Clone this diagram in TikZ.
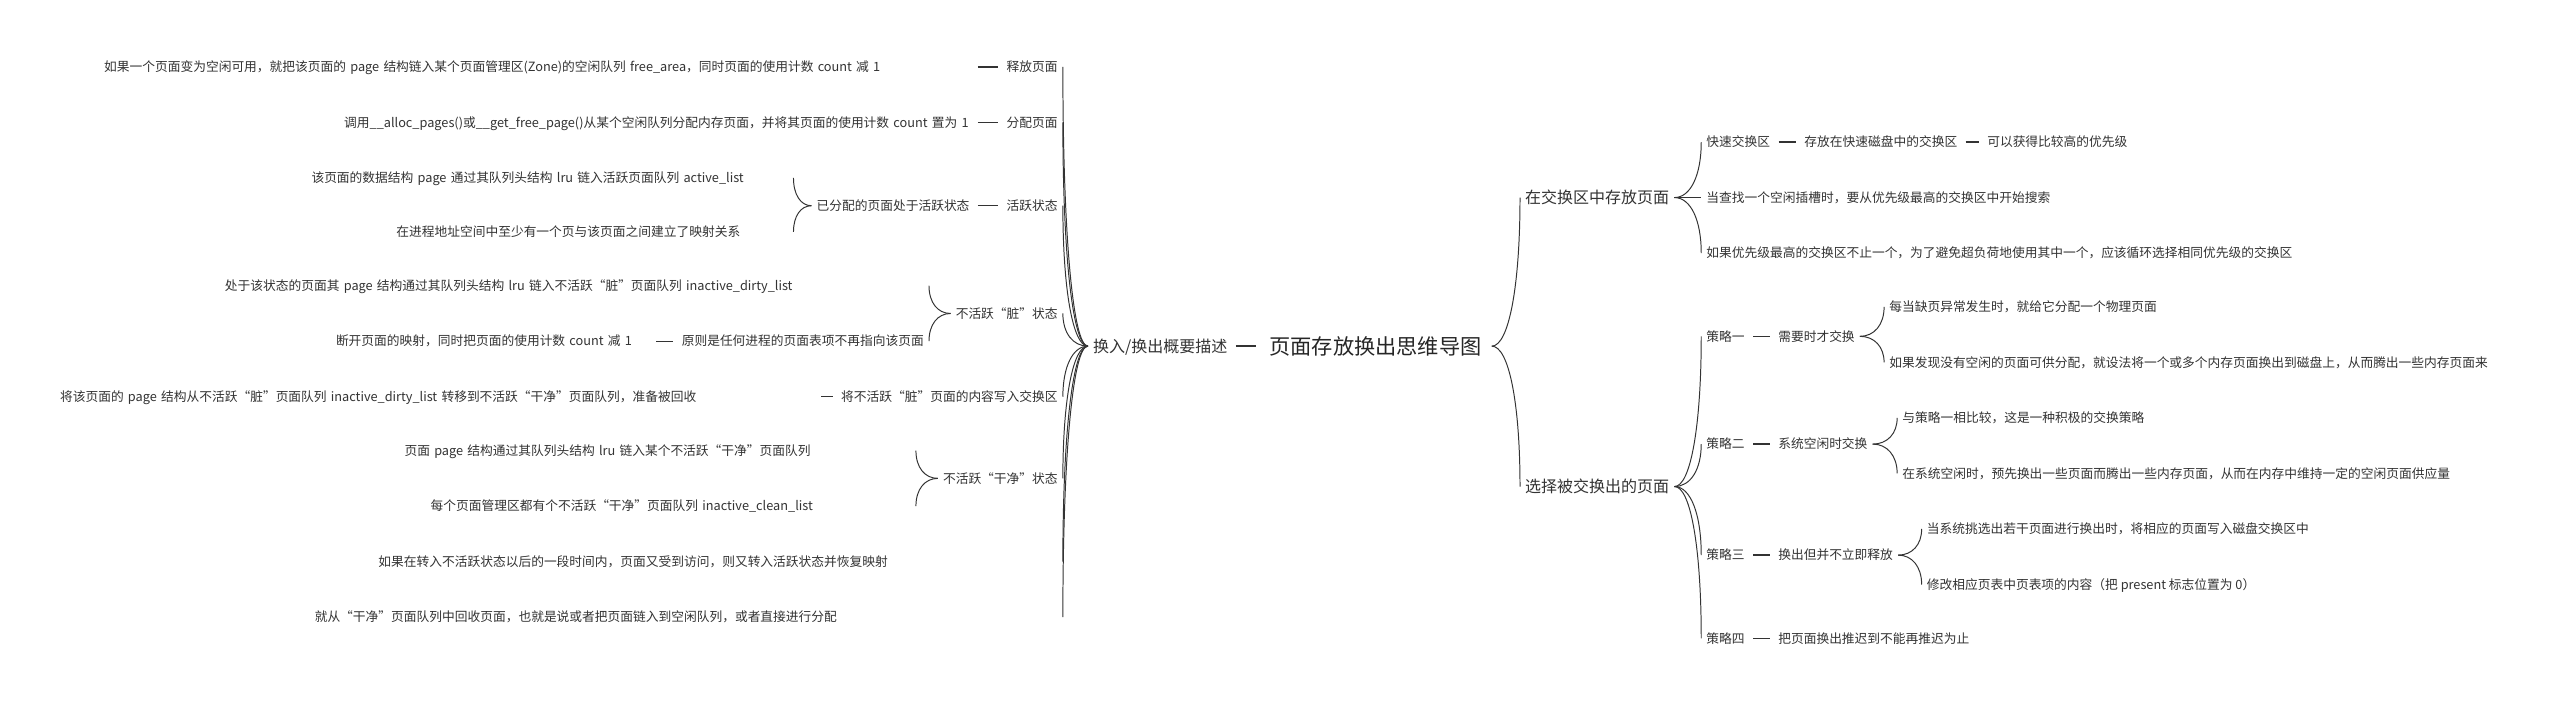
\documentclass[tikz,border=0pt]{standalone}
\usepackage{fontspec}
\setmainfont{Noto Sans CJK SC}
\usetikzlibrary{calc}
\definecolor{ink}{HTML}{333333}

\begin{document}
\begin{tikzpicture}[x=1pt, y=1pt,
  leaf/.style={font=\fontsize{7.8}{9}\selectfont, text=ink, inner xsep=3pt, inner ysep=0pt, text height=6.8pt, text depth=1pt},
  mid/.style={leaf, font=\fontsize{9.8}{11}\selectfont, text height=8.6pt, text depth=1.2pt},
  top/.style={leaf, font=\fontsize{13}{15}\selectfont, text=black!85, text height=11.4pt, text depth=1.6pt, inner xsep=6pt},
  lfix/.style={text width=#1, align=left, execute at begin node=\leavevmode\hbox\bgroup, execute at end node=\egroup},
  stem/.style={draw=ink, line width=0.9pt, shorten <=2pt, shorten >=2pt},
  twig/.style={draw=ink, line width=0.6pt, to path={.. controls ($(\tikztostart)!0.6!(\tikztotarget|-\tikztostart)$) and ($(\tikztotarget)!0.6!(\tikztotarget|-\tikztostart)$) .. (\tikztotarget)}}]

\fill[white] (0,0) rectangle (1568,-432);
\useasboundingbox (0,0) rectangle (1568,-432);

\node[top] (root) at (842.5,-212) {页面存放换出思维导图};
\node[mid, anchor=east] (hl) at (755,-212) {换入/换出概要描述};

\node[leaf, anchor=east] (b1) at (651,-41) {释放页面};
\node[leaf, anchor=east] (b2) at (651,-75) {分配页面};
\node[leaf, anchor=east] (b3) at (651,-126) {活跃状态};
\node[leaf, anchor=east] (b4) at (651,-192) {不活跃“脏”状态};
\node[leaf, anchor=east] (b5) at (651,-243) {将不活跃“脏”页面的内容写入交换区};
\node[leaf, anchor=east] (b6) at (651,-293) {不活跃“干净”状态};
\node[leaf, lfix=416pt, anchor=east] (b7) at (651,-344) {如果在转入不活跃状态以后的一段时间内，页面又受到访问，则又转入活跃状态并恢复映射};
\node[leaf, lfix=455pt, anchor=east] (b8) at (651,-378) {就从“干净”页面队列中回收页面，也就是说或者把页面链入到空闲队列，或者直接进行分配};

\node[leaf, lfix=530pt, anchor=east] (a1) at (597,-41) {如果一个页面变为空闲可用，就把该页面的 page 结构链入某个页面管理区(Zone)的空闲队列 free\_area，同时页面的使用计数 count 减 1};
\node[leaf, lfix=383pt, anchor=east] (a2) at (597,-75) {调用\_\_alloc\_pages()或\_\_get\_free\_page()从某个空闲队列分配内存页面，并将其页面的使用计数 count 置为 1};

\node[leaf, anchor=east] (c3) at (597,-126) {已分配的页面处于活跃状态};
\node[leaf, lfix=292pt, anchor=east] (d1) at (486,-109) {该页面的数据结构 page 通过其队列头结构 lru 链入活跃页面队列 active\_list};
\node[leaf, lfix=240pt, anchor=east] (d2) at (486,-142) {在进程地址空间中至少有一个页与该页面之间建立了映射关系};

\node[leaf, lfix=428pt, anchor=east] (e1) at (569,-175) {处于该状态的页面其 page 结构通过其队列头结构 lru 链入不活跃“脏”页面队列 inactive\_dirty\_list};
\node[leaf, anchor=east] (e2) at (569,-209) {原则是任何进程的页面表项不再指向该页面};
\node[leaf, lfix=191pt, anchor=east] (e3) at (400,-209) {断开页面的映射，同时把页面的使用计数 count 减 1};

\node[leaf, lfix=461pt, anchor=east] (f1) at (501,-243) {将该页面的 page 结构从不活跃“脏”页面队列 inactive\_dirty\_list 转移到不活跃“干净”页面队列，准备被回收};

\node[leaf, lfix=310pt, anchor=east] (g1) at (561,-276) {页面 page 结构通过其队列头结构 lru 链入某个不活跃“干净”页面队列};
\node[leaf, lfix=294pt, anchor=east] (g2) at (561,-310) {每个页面管理区都有个不活跃“干净”页面队列 inactive\_clean\_list};

\node[mid, anchor=west] (r1) at (931,-121) {在交换区中存放页面};
\node[mid, anchor=west] (r2) at (931,-298) {选择被交换出的页面};

\node[leaf, anchor=west] (s1) at (1042,-87) {快速交换区};
\node[leaf, anchor=west] (t1) at (1102,-87) {存放在快速磁盘中的交换区};
\node[leaf, anchor=west] (t2) at (1214,-87) {可以获得比较高的优先级};
\node[leaf, anchor=west] (s2) at (1042,-121) {当查找一个空闲插槽时，要从优先级最高的交换区中开始搜索};
\node[leaf, anchor=west] (s3) at (1042,-155) {如果优先级最高的交换区不止一个，为了避免超负荷地使用其中一个，应该循环选择相同优先级的交换区};

\node[leaf, anchor=west] (p1) at (1042,-206) {策略一};
\node[leaf, anchor=west] (q1) at (1086,-206) {需要时才交换};
\node[leaf, anchor=west] (u1) at (1154,-188) {每当缺页异常发生时，就给它分配一个物理页面};
\node[leaf, anchor=west] (u2) at (1154,-222) {如果发现没有空闲的页面可供分配，就设法将一个或多个内存页面换出到磁盘上，从而腾出一些内存页面来};

\node[leaf, anchor=west] (p2) at (1042,-272) {策略二};
\node[leaf, anchor=west] (q2) at (1086,-272) {系统空闲时交换};
\node[leaf, anchor=west] (u3) at (1162,-256) {与策略一相比较，这是一种积极的交换策略};
\node[leaf, anchor=west] (u4) at (1162,-290) {在系统空闲时，预先换出一些页面而腾出一些内存页面，从而在内存中维持一定的空闲页面供应量};

\node[leaf, anchor=west] (p3) at (1042,-340) {策略三};
\node[leaf, anchor=west] (q3) at (1086,-340) {换出但并不立即释放};
\node[leaf, anchor=west] (u5) at (1177,-324) {当系统挑选出若干页面进行换出时，将相应的页面写入磁盘交换区中};
\node[leaf, anchor=west] (u6) at (1177,-358) {修改相应页表中页表项的内容（把 present 标志位置为 0）};

\node[leaf, anchor=west] (p4) at (1042,-391) {策略四};
\node[leaf, anchor=west] (q4) at (1086,-391) {把页面换出推迟到不能再推迟为止};

\draw[stem] (hl.east) -- (root.west);

\draw[twig] (hl.west) to (b1.east);
\draw[twig] (hl.west) to (b2.east);
\draw[twig] (hl.west) to (b3.east);
\draw[twig] (hl.west) to (b4.east);
\draw[twig] (hl.west) to (b5.east);
\draw[twig] (hl.west) to (b6.east);
\draw[twig] (hl.west) to (b7.east);
\draw[twig] (hl.west) to (b8.east);

\draw[stem] (a1.east) -- (b1.west);
\draw[stem] (a2.east) -- (b2.west);
\draw[stem] (c3.east) -- (b3.west);
\draw[twig] (c3.west) to (d1.east);
\draw[twig] (c3.west) to (d2.east);
\draw[twig] (b4.west) to (e1.east);
\draw[twig] (b4.west) to (e2.east);
\draw[stem] (e3.east) -- (e2.west);
\draw[stem] (f1.east) -- (b5.west);
\draw[twig] (b6.west) to (g1.east);
\draw[twig] (b6.west) to (g2.east);

\draw[twig] (root.east) to (r1.west);
\draw[twig] (root.east) to (r2.west);

\draw[twig] (r1.east) to (s1.west);
\draw[twig] (r1.east) to (s2.west);
\draw[twig] (r1.east) to (s3.west);
\draw[stem] (s1.east) -- (t1.west);
\draw[stem] (t1.east) -- (t2.west);

\draw[twig] (r2.east) to (p1.west);
\draw[twig] (r2.east) to (p2.west);
\draw[twig] (r2.east) to (p3.west);
\draw[twig] (r2.east) to (p4.west);
\draw[stem] (p1.east) -- (q1.west);
\draw[stem] (p2.east) -- (q2.west);
\draw[stem] (p3.east) -- (q3.west);
\draw[stem] (p4.east) -- (q4.west);
\draw[twig] (q1.east) to (u1.west);
\draw[twig] (q1.east) to (u2.west);
\draw[twig] (q2.east) to (u3.west);
\draw[twig] (q2.east) to (u4.west);
\draw[twig] (q3.east) to (u5.west);
\draw[twig] (q3.east) to (u6.west);

\end{tikzpicture}
\end{document}
